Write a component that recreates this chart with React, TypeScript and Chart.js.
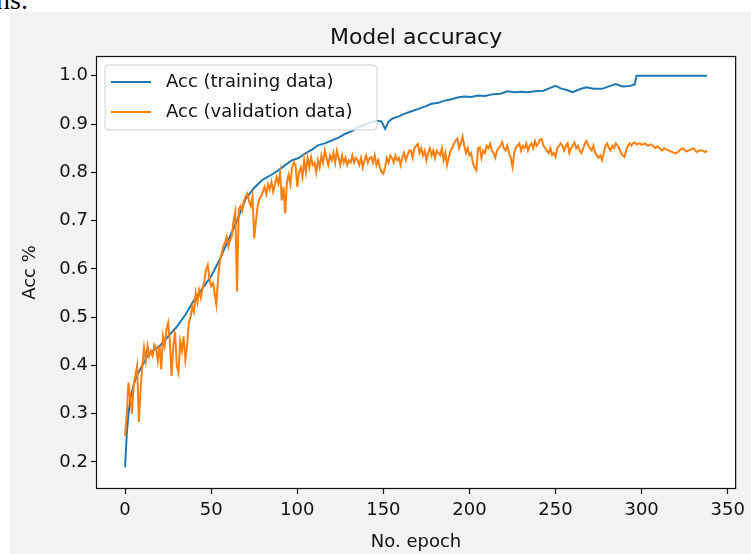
import React, { useEffect, useRef } from "react";
import { Chart, registerables } from "chart.js";

Chart.register(...registerables);

const FONT = "'DejaVu Sans', sans-serif";

const chartTitle = "Model accuracy";
const xAxisTitle = "No. epoch";
const yAxisTitle = "Acc %";
const trainLabel = "Acc (training data)";
const valLabel = "Acc (validation data)";

const xTicks = [0, 50, 100, 150, 200, 250, 300, 350];
const yTicks = [0.2, 0.3, 0.4, 0.5, 0.6, 0.7, 0.8, 0.9, 1.0];

const trainEpochs = [
  0, 1, 2, 3, 5, 7, 10, 13, 16, 20, 25, 30, 35, 40, 45, 50, 55, 60, 65, 70,
  75, 80, 85, 89, 93, 97, 101, 105, 109, 112, 116, 120, 124, 128, 132, 135, 139, 143, 147, 149,
  151, 153, 155, 159, 162, 166, 170, 174, 178, 182, 185, 189, 193, 197, 201, 205, 209, 214, 218, 222,
  226, 230, 234, 238, 243, 247, 250, 253, 257, 260, 264, 268, 272, 277, 281, 285, 289, 293, 296, 297,
  338,
];
const trainAcc = [
  0.189, 0.26, 0.3, 0.33, 0.36, 0.38, 0.4, 0.42, 0.43, 0.44, 0.46, 0.48, 0.505, 0.535, 0.56, 0.585, 0.62, 0.66, 0.7, 0.745,
  0.768, 0.785, 0.795, 0.804, 0.815, 0.825, 0.83, 0.84, 0.848, 0.856, 0.86, 0.866, 0.872, 0.88, 0.886, 0.893, 0.898, 0.904, 0.907, 0.905,
  0.89, 0.905, 0.911, 0.916, 0.921, 0.926, 0.931, 0.936, 0.942, 0.944, 0.948, 0.951, 0.955, 0.957, 0.956, 0.959, 0.958, 0.962, 0.963, 0.968,
  0.966, 0.967, 0.966, 0.968, 0.969, 0.975, 0.979, 0.974, 0.97, 0.966, 0.972, 0.976, 0.973, 0.973, 0.978, 0.983, 0.978, 0.979, 0.982, 1.0,
  1.0,
];

// validation accuracy, one value per epoch (0..338)
const valAcc = [
  0.254, 0.3, 0.364, 0.33, 0.3, 0.36, 0.38, 0.4, 0.283, 0.35,
  0.4, 0.437, 0.41, 0.44, 0.419, 0.43, 0.42, 0.443, 0.436, 0.41,
  0.44, 0.392, 0.46, 0.44, 0.474, 0.488, 0.45, 0.378, 0.44, 0.47,
  0.4, 0.385, 0.45, 0.43, 0.46, 0.412, 0.44, 0.488, 0.5, 0.522,
  0.51, 0.55, 0.53, 0.556, 0.54, 0.56, 0.575, 0.598, 0.608, 0.58,
  0.564, 0.57, 0.55, 0.526, 0.58, 0.615, 0.63, 0.646, 0.655, 0.667,
  0.646, 0.66, 0.667, 0.7, 0.718, 0.553, 0.722, 0.73, 0.72, 0.74,
  0.75, 0.756, 0.74, 0.73, 0.75, 0.663, 0.7, 0.73, 0.745, 0.75,
  0.76, 0.77, 0.755, 0.775, 0.765, 0.78, 0.76, 0.775, 0.79, 0.777,
  0.8, 0.742, 0.77, 0.715, 0.78, 0.795, 0.775, 0.81, 0.82, 0.814,
  0.77, 0.8, 0.81, 0.79, 0.825, 0.8, 0.83, 0.81, 0.832, 0.815,
  0.82, 0.8, 0.825, 0.81, 0.835, 0.82, 0.845, 0.83, 0.815, 0.835,
  0.825, 0.84, 0.82, 0.845, 0.83, 0.815, 0.835, 0.82, 0.83, 0.815,
  0.825, 0.82, 0.835, 0.82, 0.83, 0.825, 0.815, 0.83, 0.81, 0.825,
  0.835, 0.82, 0.83, 0.832, 0.82, 0.835, 0.815, 0.825, 0.81, 0.8,
  0.797, 0.81, 0.83, 0.82, 0.835, 0.83, 0.82, 0.835, 0.825, 0.83,
  0.815, 0.83, 0.84, 0.825, 0.835, 0.845, 0.845, 0.83, 0.85, 0.855,
  0.859, 0.84, 0.85, 0.835, 0.845, 0.825, 0.84, 0.85, 0.835, 0.845,
  0.83, 0.845, 0.84, 0.835, 0.85, 0.825, 0.84, 0.815, 0.83, 0.845,
  0.85, 0.86, 0.866, 0.87, 0.85, 0.86, 0.874, 0.855, 0.84, 0.85,
  0.835, 0.84, 0.82, 0.81, 0.804, 0.85, 0.852, 0.83, 0.845, 0.84,
  0.855, 0.85, 0.859, 0.845, 0.84, 0.83, 0.845, 0.85, 0.855, 0.863,
  0.85, 0.845, 0.855, 0.84, 0.83, 0.811, 0.84, 0.852, 0.855, 0.86,
  0.845, 0.855, 0.85, 0.86, 0.845, 0.855, 0.86, 0.85, 0.865, 0.855,
  0.86, 0.868, 0.869, 0.855, 0.85, 0.845, 0.84, 0.85, 0.836, 0.84,
  0.832, 0.85, 0.855, 0.86, 0.855, 0.845, 0.855, 0.86, 0.84, 0.85,
  0.855, 0.862, 0.85, 0.855, 0.845, 0.84, 0.848, 0.86, 0.865, 0.855,
  0.85, 0.845, 0.855, 0.84, 0.835, 0.83, 0.835, 0.825, 0.84, 0.855,
  0.86, 0.85, 0.845, 0.855, 0.85, 0.86, 0.855, 0.85, 0.84, 0.835,
  0.832, 0.845, 0.855, 0.86, 0.855, 0.86, 0.862, 0.858, 0.859, 0.86,
  0.857, 0.858, 0.86, 0.857, 0.855, 0.858, 0.857, 0.853, 0.85, 0.854,
  0.852, 0.848, 0.845, 0.85, 0.848, 0.846, 0.845, 0.843, 0.842, 0.84,
  0.839, 0.842, 0.845, 0.848, 0.85, 0.846, 0.843, 0.845, 0.846, 0.848,
  0.85, 0.846, 0.842, 0.844, 0.846, 0.845, 0.844, 0.842, 0.845,
];

const TRAIN_COLOR = "#1f77b4";
const VAL_COLOR = "#ff7f0e";

const decorPlugin = {
  id: "decor",
  beforeDraw(chart: any) {
    const { ctx, chartArea: a, width, height } = chart;
    ctx.save();
    ctx.fillStyle = "#f3f3f3";
    ctx.fillRect(0, 0, width, height);
    ctx.fillStyle = "#ffffff";
    ctx.fillRect(a.left, a.top, a.right - a.left, a.bottom - a.top);
    ctx.restore();
  },
  afterDatasetsDraw(chart: any) {
    const { ctx, chartArea: a } = chart;
    ctx.save();
    // frame
    ctx.strokeStyle = "#111";
    ctx.lineWidth = 1.2;
    ctx.strokeRect(a.left + 0.5, a.top + 0.5, a.right - a.left - 1, a.bottom - a.top - 1);

    // title
    ctx.fillStyle = "#111";
    ctx.font = `22px ${FONT}`;
    ctx.textAlign = "center";
    ctx.textBaseline = "middle";
    ctx.fillText(chartTitle, (a.left + a.right) / 2, 26);

    // legend
    const bx = 95, by = 53, bw = 272, bh = 65, r = 4;
    ctx.beginPath();
    ctx.moveTo(bx + r, by);
    ctx.lineTo(bx + bw - r, by);
    ctx.quadraticCurveTo(bx + bw, by, bx + bw, by + r);
    ctx.lineTo(bx + bw, by + bh - r);
    ctx.quadraticCurveTo(bx + bw, by + bh, bx + bw - r, by + bh);
    ctx.lineTo(bx + r, by + bh);
    ctx.quadraticCurveTo(bx, by + bh, bx, by + bh - r);
    ctx.lineTo(bx, by + r);
    ctx.quadraticCurveTo(bx, by, bx + r, by);
    ctx.closePath();
    ctx.fillStyle = "rgba(255,255,255,0.8)";
    ctx.fill();
    ctx.strokeStyle = "#d0d0d0";
    ctx.lineWidth = 1;
    ctx.stroke();

    const rows = [
      { label: trainLabel, color: TRAIN_COLOR, y: 70 },
      { label: valLabel, color: VAL_COLOR, y: 100 },
    ];
    ctx.font = `18px ${FONT}`;
    ctx.textAlign = "left";
    ctx.textBaseline = "middle";
    for (const row of rows) {
      ctx.strokeStyle = row.color;
      ctx.lineWidth = 2;
      ctx.beginPath();
      ctx.moveTo(101, row.y);
      ctx.lineTo(141, row.y);
      ctx.stroke();
      ctx.fillStyle = "#111";
      ctx.fillText(row.label, 156, row.y);
    }
    ctx.restore();
  },
};

export default function App() {
  const canvasRef = useRef<HTMLCanvasElement | null>(null);

  useEffect(() => {
    const canvas = canvasRef.current;
    if (!canvas) return;
    const chart = new Chart(canvas, {
      type: "line",
      data: {
        datasets: [
          {
            label: trainLabel,
            data: trainEpochs.map((e, i) => ({ x: e, y: trainAcc[i] })),
            borderColor: TRAIN_COLOR,
            backgroundColor: TRAIN_COLOR,
            borderWidth: 2,
            pointRadius: 0,
            tension: 0,
            order: 2,
          },
          {
            label: valLabel,
            data: valAcc.map((v, i) => ({ x: i, y: v })),
            borderColor: VAL_COLOR,
            backgroundColor: VAL_COLOR,
            borderWidth: 2,
            pointRadius: 0,
            tension: 0,
            order: 1,
          },
        ],
      },
      options: {
        responsive: false,
        animation: false,
        devicePixelRatio: 1,
        layout: { padding: { left: 0, top: 44, right: 9, bottom: 0 } },
        plugins: {
          legend: { display: false },
          tooltip: { enabled: false },
          title: { display: false },
        },
        scales: {
          x: {
            type: "linear",
            min: -16.9,
            max: 354.9,
            afterBuildTicks: (s: any) => {
              s.ticks = xTicks.map((v) => ({ value: v }));
            },
            afterFit: (s: any) => {
              s.height = 65;
            },
            grid: {
              drawOnChartArea: false,
              drawTicks: true,
              tickLength: 5,
              tickWidth: 1.2,
              tickColor: "#111",
              color: "#111",
            },
            border: { display: false },
            ticks: {
              padding: 6,
              color: "#111",
              font: { family: FONT, size: 18 },
              maxRotation: 0,
              autoSkip: false,
              callback: (v: any) => String(v),
            },
            title: {
              display: true,
              text: xAxisTitle,
              color: "#111",
              font: { family: FONT, size: 18 },
              padding: { top: 0, bottom: 1 },
            },
          },
          y: {
            type: "linear",
            min: 0.144,
            max: 1.041,
            afterBuildTicks: (s: any) => {
              s.ticks = yTicks.map((v) => ({ value: v }));
            },
            afterFit: (s: any) => {
              s.width = 86;
            },
            grid: {
              drawOnChartArea: false,
              drawTicks: true,
              tickLength: 5,
              tickWidth: 1.2,
              tickColor: "#111",
              color: "#111",
            },
            border: { display: false },
            ticks: {
              padding: 3,
              color: "#111",
              font: { family: FONT, size: 18 },
              autoSkip: false,
              callback: (v: any) => Number(v).toFixed(1),
            },
            title: {
              display: true,
              text: yAxisTitle,
              color: "#111",
              font: { family: FONT, size: 18 },
              padding: { top: 10, bottom: 0 },
            },
          },
        },
      },
      plugins: [decorPlugin],
    });
    return () => chart.destroy();
  }, []);

  return (
    <div
      style={{
        position: "absolute",
        left: 0,
        top: 0,
        width: 751,
        height: 554,
        background: "#ffffff",
        overflow: "hidden",
      }}
    >
      <span
        style={{
          position: "absolute",
          left: -4,
          top: -14,
          fontFamily: "'Liberation Serif', serif",
          fontSize: 28,
          lineHeight: "28px",
          color: "#000",
          whiteSpace: "nowrap",
        }}
      >
        ns.
      </span>
      <canvas
        ref={canvasRef}
        width={741}
        height={542}
        style={{ position: "absolute", left: 10, top: 12, width: 741, height: 542 }}
      />
    </div>
  );
}
